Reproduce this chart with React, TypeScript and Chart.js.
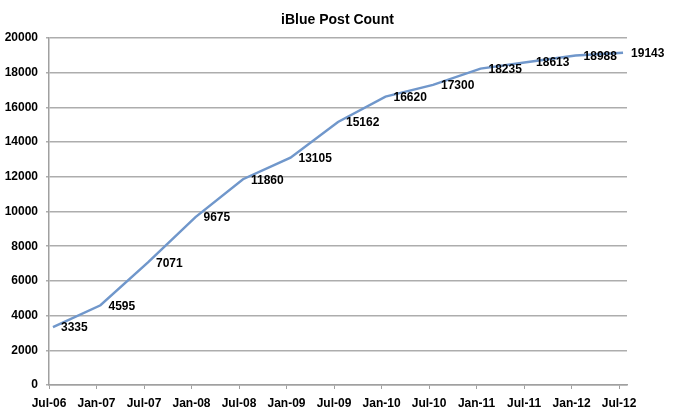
import React, { useEffect, useRef } from "react";
import { Chart, registerables } from "chart.js";

Chart.register(...registerables);

const chartTitle = "iBlue Post Count";
const tickLabels = ["Jul-06", "Jan-07", "Jul-07", "Jan-08", "Jul-08", "Jan-09", "Jul-09", "Jan-10", "Jul-10", "Jan-11", "Jul-11", "Jan-12", "Jul-12"];
// months since Jul-2006 for each tick / data point
const tickMonths = [0, 6, 12, 18, 24, 30, 36, 42, 48, 54, 60, 66, 72];
const pointMonths = [0, 6, 12, 18, 24, 30, 36, 42, 48, 54, 60, 66, 72];
const postCounts = [3335, 4595, 7071, 9675, 11860, 13105, 15162, 16620, 17300, 18235, 18613, 18988, 19143];

const FONT = "'Liberation Sans', Arial, Helvetica, sans-serif";

export default function App() {
  const ref = useRef<HTMLCanvasElement | null>(null);

  useEffect(() => {
    if (!ref.current) return;
    const titlePlugin = {
      id: "customTitle",
      afterDraw(chart: any) {
        const ctx = chart.ctx;
        ctx.save();
        ctx.font = `bold 14px ${FONT}`;
        ctx.fillStyle = "#000";
        ctx.textAlign = "center";
        ctx.textBaseline = "middle";
        ctx.fillText(chartTitle, chart.width / 2, 20);
        ctx.restore();
      },
    };
    const labelPlugin = {
      id: "valueLabels",
      afterDatasetsDraw(chart: any) {
        const ctx = chart.ctx;
        const meta = chart.getDatasetMeta(0);
        ctx.save();
        ctx.font = `bold 12px ${FONT}`;
        ctx.fillStyle = "#000";
        ctx.textAlign = "left";
        ctx.textBaseline = "middle";
        meta.data.forEach((pt: any, i: number) => {
          ctx.fillText(String(postCounts[i]), pt.x + 8, pt.y + 1);
        });
        ctx.restore();
      },
    };
    const chart = new Chart(ref.current, {
      type: "line",
      data: {
        datasets: [
          {
            data: pointMonths.map((m, i) => ({ x: m + 0.5, y: postCounts[i] })),
            borderColor: "#7097cb",
            borderWidth: 2.5,
            pointRadius: 0,
            tension: 0,
            fill: false,
          },
        ],
      },
      options: {
        responsive: false,
        animation: false,
        layout: { padding: { top: 38, right: 48, left: 0, bottom: 0 } },
        plugins: { legend: { display: false }, tooltip: { enabled: false }, title: { display: false } },
        scales: {
          x: {
            type: "linear",
            min: 0,
            max: 73,
            afterBuildTicks: (s: any) => {
              s.ticks = tickMonths.map((v) => ({ value: v }));
            },
            afterFit: (s: any) => {
              s.height = 26;
            },
            ticks: {
              autoSkip: false,
              maxRotation: 0,
              padding: 7,
              color: "#000",
              font: { family: FONT, size: 12, weight: "bold" },
              callback: (v: any) => tickLabels[tickMonths.indexOf(Number(v))],
            },
            grid: { drawOnChartArea: false, drawTicks: true, tickLength: 4, color: "#a0a0a0", lineWidth: 1 },
            border: { color: "#a0a0a0", width: 1.5 },
          },
          y: {
            min: 0,
            max: 20000,
            afterFit: (s: any) => {
              s.width = 49;
            },
            ticks: {
              stepSize: 2000,
              padding: 8,
              color: "#000",
              font: { family: FONT, size: 12, weight: "bold" },
              callback: (v: any) => String(v),
            },
            grid: { color: "#adadad", lineWidth: 1.5, tickLength: 3 },
            border: { color: "#a0a0a0", width: 1.5 },
          },
        },
      },
      plugins: [titlePlugin, labelPlugin],
    } as any);
    return () => chart.destroy();
  }, []);

  return (
    <div style={{ position: "absolute", left: 0, top: 0, width: 675, height: 411, background: "#fff" }}>
      <canvas ref={ref} width={675} height={411} />
    </div>
  );
}
